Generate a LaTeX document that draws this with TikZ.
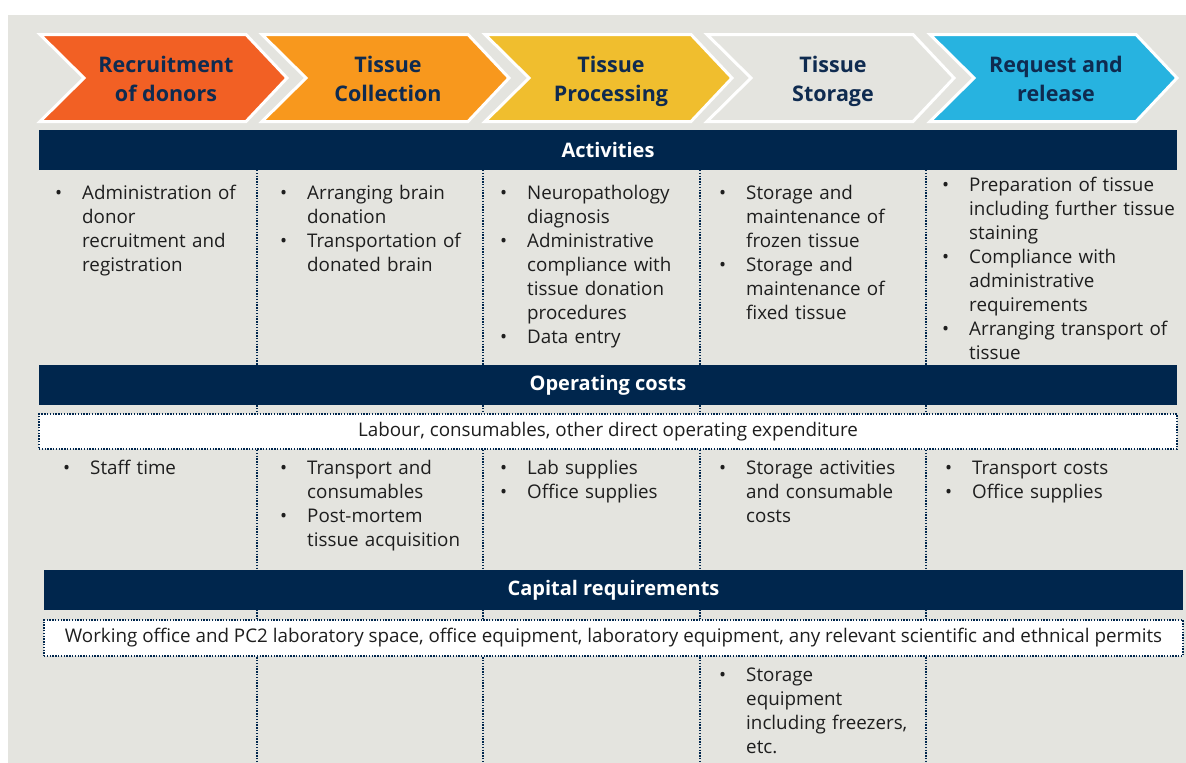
\documentclass[tikz,border=0pt]{standalone}
\usepackage{fontspec}
\setmainfont{Open Sans}

\definecolor{navy}{HTML}{00264D}
\definecolor{headtext}{HTML}{0F2B50}
\definecolor{bodytext}{HTML}{1E1E1E}
\definecolor{bggrey}{HTML}{E4E4DF}
\definecolor{chevA}{HTML}{F26024}
\definecolor{chevB}{HTML}{F8981D}
\definecolor{chevC}{HTML}{F0BE2E}
\definecolor{chevD}{HTML}{E4E4DF}
\definecolor{chevE}{HTML}{27B3E0}

% bullet item with hanging text
\newcommand{\bitem}[1]{\par\hangindent=27pt\hangafter=1\noindent\makebox[27pt][l]{\textbullet}\strut#1\par}

\begin{document}
\begin{tikzpicture}[x=1pt, y=-1pt,
  chevron/.style={draw=white, line width=3pt, line join=miter},
  steptext/.style={align=center, text=headtext, font=\bfseries\fontsize{21.5}{29}\selectfont},
  bar/.style={fill=navy, text=white, inner sep=0pt, minimum height=40pt,
    font=\bfseries\fontsize{20}{22}\selectfont},
  dotbox/.style={draw=navy, fill=white, line width=1.6pt, dash pattern=on 1.4pt off 1.4pt,
    inner sep=0pt, minimum height=35pt, text=bodytext, font=\fontsize{18.8}{24}\selectfont},
  sep/.style={draw=navy, line width=1.6pt, dash pattern=on 1.4pt off 1.4pt},
  cell/.style={anchor=north west, inner sep=0pt, text width=250pt, align=left,
    text=bodytext, font=\fontsize{18.8}{24}\selectfont}]

  % Page and background
  \useasboundingbox (0,0) rectangle (1186,763);
  \fill[white] (0,0) rectangle (1186,763);
  \fill[bggrey] (8,15) rectangle (1186,763);

  % Column separators
  \foreach \x in {257,483,700,926}
    \draw[sep] (\x,170) -- (\x,763);

  % Process chevrons
  \foreach \x/\col/\name/\lbl in {40/chevA/recruit/{Recruitment\\of donors},
      262/chevB/collect/{Tissue\\Collection}, 485/chevC/process/{Tissue\\Processing},
      707/chevD/storage/{Tissue\\Storage}, 930/chevE/release/{Request and\\release}} {
    \draw[chevron, fill=\col] (\x,34.5) -- ++(206,0) -- ++(41,43.5) -- ++(-41,43.5)
      -- ++(-206,0) -- ++(44,-43.5) -- cycle;
    \node[steptext] (\name) at (\x+126,81) {\strut\lbl\strut};
  }

  % Activities
  \node[bar, minimum width=1138pt] (activities) at (608,150) {Activities};
  \node[cell] (actRecruit) at (55,175) {\bitem{Administration of\newline donor\newline recruitment and\newline registration}};
  \node[cell] (actCollect) at (280,175) {\bitem{Arranging brain\newline donation}\bitem{Transportation of\newline donated brain}};
  \node[cell] (actProcess) at (500,175) {\bitem{Neuropathology\newline diagnosis}\bitem{Administrative\newline compliance with\newline tissue donation\newline procedures}\bitem{Data entry}};
  \node[cell] (actStorage) at (719,175) {\bitem{Storage and\newline maintenance of\newline frozen tissue}\bitem{Storage and\newline maintenance of\newline fixed tissue}};
  \node[cell] (actRelease) at (942,167) {\bitem{Preparation of tissue\newline including further tissue\newline staining}\bitem{Compliance with\newline administrative\newline requirements}\bitem{Arranging transport of\newline tissue}};

  % Operating costs
  \node[bar, minimum width=1138pt] (operating) at (608,385) {Operating costs};
  \node[dotbox, minimum width=1138pt] (labour) at (608,431.5) {Labour, consumables, other direct operating expenditure};
  \node[cell] (opRecruit) at (63,450) {\bitem{Staff time}};
  \node[cell] (opCollect) at (280,450) {\bitem{Transport and\newline consumables}\bitem{Post-mortem\newline tissue acquisition}};
  \node[cell] (opProcess) at (500,450) {\bitem{Lab supplies}\bitem{Office supplies}};
  \node[cell] (opStorage) at (719,450) {\bitem{Storage activities\newline and consumable\newline costs}};
  \node[cell] (opRelease) at (945,450) {\bitem{Transport costs}\bitem{Office supplies}};

  % Capital requirements
  \node[bar, minimum width=1139pt] (capital) at (613.5,590) {Capital requirements};
  \node[dotbox, minimum width=1139pt, minimum height=36pt] (premises) at (613.5,638) {Working office and PC2 laboratory space, office equipment, laboratory equipment, any relevant scientific and ethnical permits};
  \node[cell] (capStorage) at (719,657) {\bitem{Storage\newline equipment\newline including freezers,\newline etc.}};

\end{tikzpicture}
\end{document}
